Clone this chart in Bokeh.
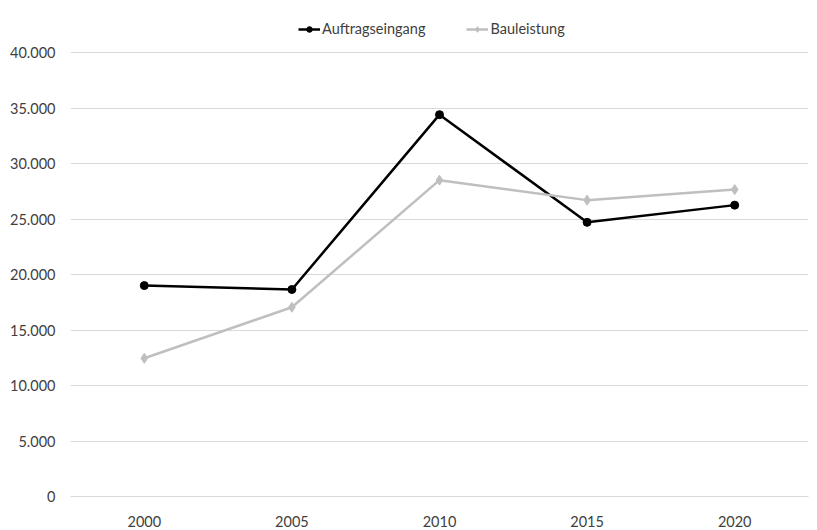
from bokeh.plotting import figure
from bokeh.models import FactorRange, Range1d, FixedTicker, Legend, LegendItem
from bokeh.embed import file_html
from bokeh.resources import INLINE

years = ["2000", "2005", "2010", "2015", "2020"]
auftragseingang = [19000, 18650, 34400, 24700, 26250]
bauleistung = [12450, 17050, 28500, 26700, 27650]
y_ticks = [0, 5000, 10000, 15000, 20000, 25000, 30000, 35000, 40000]
y_tick_labels = ["0", "5.000", "10.000", "15.000", "20.000", "25.000", "30.000", "35.000", "40.000"]

FONT = "Lato"
H = 530
TOP = 10
BOTTOM = 496
# extend the range above 40.000 so the legend fits inside the frame
y_top = 40000 * (BOTTOM - TOP) / 444.0

p = figure(width=810, height=H, x_range=FactorRange(*years), y_range=Range1d(0, y_top),
           output_backend="svg", toolbar_location=None,
           min_border_left=70, min_border_right=2, min_border_top=TOP, min_border_bottom=H - BOTTOM)
p.outline_line_color = None
p.background_fill_color = "white"

p.xgrid.grid_line_color = None
p.ygrid.grid_line_color = "#d9d9d9"
p.ygrid.grid_line_width = 1
p.yaxis.ticker = FixedTicker(ticks=y_ticks)
p.yaxis.major_label_overrides = {t: l for t, l in zip(y_ticks, y_tick_labels)}
p.yaxis.axis_line_color = None
p.yaxis.major_tick_line_color = None
p.yaxis.minor_tick_line_color = None
p.yaxis.major_label_standoff = 9
p.xaxis.axis_line_color = "#d9d9d9"
p.xaxis.major_tick_line_color = None
p.xaxis.minor_tick_line_color = None
p.xaxis.major_label_standoff = 13
for ax in (p.xaxis, p.yaxis):
    ax.major_label_text_font = FONT
    ax.major_label_text_font_size = "14.5px"
    ax.major_label_text_color = "#404040"

l1 = p.line(years, auftragseingang, line_color="black", line_width=2.5)
s1 = p.scatter(years, auftragseingang, marker="circle", size=8, fill_color="black", line_color="black")
l2 = p.line(years, bauleistung, line_color="#bfbfbf", line_width=2.5)
s2 = p.scatter(years, bauleistung, marker="diamond", size=10, fill_color="#bfbfbf", line_color="#bfbfbf")

legend = Legend(items=[LegendItem(label="Auftragseingang", renderers=[l1, s1]),
                       LegendItem(label="Bauleistung", renderers=[l2, s2])],
                orientation="horizontal", location=(228, 459),
                label_text_font=FONT, label_text_font_size="14.5px", label_text_color="#404040",
                glyph_width=22, glyph_height=14, spacing=41, label_standoff=2,
                border_line_color=None, background_fill_alpha=0, padding=4, margin=0)
p.add_layout(legend, "center")

open("out.html", "w").write(file_html(p, INLINE))
